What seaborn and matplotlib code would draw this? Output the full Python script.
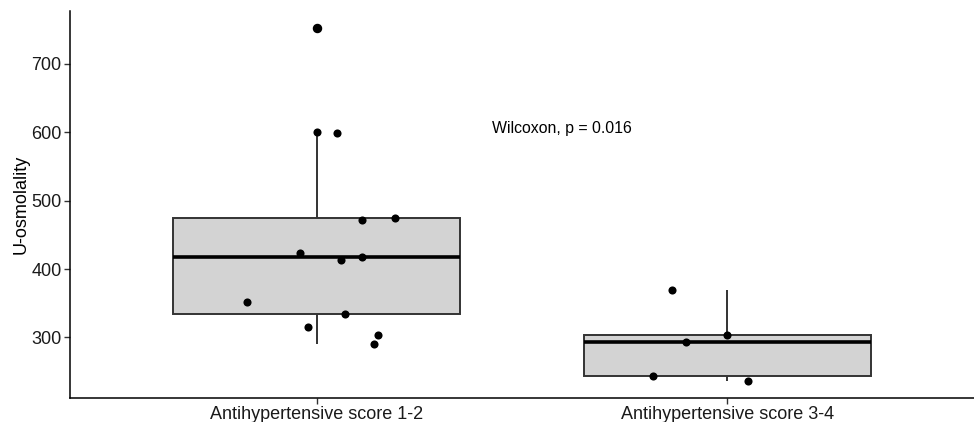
import matplotlib
matplotlib.use("Agg")
import matplotlib.pyplot as plt
import seaborn as sns
import pandas as pd
import numpy as np

categories = ["Antihypertensive score 1-2", "Antihypertensive score 3-4"]
group1_values = [753, 600, 599, 472, 475, 424, 414, 418, 352, 335, 316, 303, 290]
group2_values = [369, 303, 294, 243, 237]
# horizontal jitter offsets
group1_jitter = [0.0, 0.0, 0.05, 0.11, 0.19, -0.04, 0.06, 0.11, -0.17, 0.07, -0.02, 0.15, 0.14]
group2_jitter = [-0.135, 0.0, -0.10, -0.18, 0.05]
y_label = "U-osmolality"
y_ticks = [300, 400, 500, 600, 700]
annotation = "Wilcoxon, p = 0.016"

df = pd.DataFrame({
    "group": [categories[0]] * len(group1_values) + [categories[1]] * len(group2_values),
    "value": group1_values + group2_values,
})
df["xpos"] = [0 + j for j in group1_jitter] + [1 + j for j in group2_jitter]

sns.set_theme(style="ticks")
plt.rcParams["font.family"] = ["Liberation Sans", "DejaVu Sans"]

fig = plt.figure(figsize=(9.74, 4.22), dpi=100)
ax = fig.add_axes([70 / 974, 24 / 422, 1 - 70 / 974, (398 - 11) / 422])

edge = "#333333"
sns.boxplot(data=df, x="group", y="value", order=categories, ax=ax, width=0.7,
            color="#D3D3D3", saturation=1, linewidth=1.4, linecolor=edge,
            whis=1.5,
            flierprops=dict(marker="o", markersize=5.8, markerfacecolor="black",
                            markeredgecolor="black"),
            medianprops=dict(color="black", linewidth=2.6),
            boxprops=dict(edgecolor=edge),
            whiskerprops=dict(color=edge), capprops=dict(linewidth=0))

sns.scatterplot(data=df, x="xpos", y="value", ax=ax, color="black", s=34,
                edgecolor="black", linewidth=0, zorder=5, legend=False)

ax.set_xlim(-0.6, 1.6)
ax.set_ylim(211.5, 777.5)
ax.set_yticks(y_ticks)
ax.set_xticks([0, 1])
ax.set_xticklabels(categories)
ax.set_xlabel("")
ax.set_ylabel(y_label, fontsize=13, color="black", labelpad=1)
ax.tick_params(axis="both", labelsize=13, colors="#333333", length=4, width=1,
               labelcolor="#1a1a1a", pad=2)
for s in ["top", "right"]:
    ax.spines[s].set_visible(False)
for s in ["left", "bottom"]:
    ax.spines[s].set_color("black")
    ax.spines[s].set_linewidth(1.1)

ax.text(0.598, 606, annotation, ha="center", va="center", fontsize=11.4, color="black")

fig.savefig("out.png", dpi=100)
